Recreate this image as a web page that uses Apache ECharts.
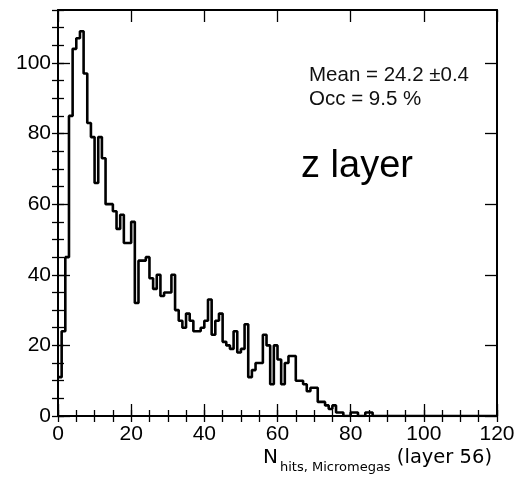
<!DOCTYPE html>
<html><head><meta charset="utf-8">
<script src="https://cdn.jsdelivr.net/npm/echarts@6/dist/echarts.min.js"></script>
<style>html,body{margin:0;padding:0;background:#fff}#c{width:518px;height:477px}</style>
</head><body><div id="c"></div>
<script>
// Histogram: N_hits Micromegas (layer 56), bin width 1, range 0..120
const binWidth = 1;
const counts = [
  11, 24, 45, 85, 104, 107, 109, 97, 83, 79,
  66, 79, 73, 60, 60, 58, 53, 57, 49, 49,
  55, 32, 44, 44, 45, 39, 36, 40, 34, 35,
  35, 40, 30, 27, 25, 29, 27, 24, 24, 25,
  27, 33, 23, 27, 29, 21, 20, 19, 24, 18,
  19, 26, 11, 13, 15, 15, 23, 20, 9, 20,
  16, 9, 15, 17, 17, 10, 10, 9, 7, 8,
  8, 4, 4, 3, 2, 3, 1, 1, 0, 0,
  1, 1, 0, 0, 1, 1, 0, 0, 0, 0,
  0, 0, 0, 0, 0, 0, 0, 0, 0, 0,
  0, 0, 0, 0, 0, 0, 0, 0, 0, 0,
  0, 0, 0, 0, 0, 0, 0, 0, 0, 0
];
const xMajorTicks = [0, 20, 40, 60, 80, 100, 120];
const yMajorTicks = [0, 20, 40, 60, 80, 100];
const xRange = [0, 120];
const yRange = [0, 115];
const minorStep = 5;
const statsLines = ['Mean = 24.2 \u00b10.4', 'Occ = 9.5 %'];
const panelLabel = 'z layer';
const titleMain = 'N';
const titleSub = 'hits, Micromegas';
const titleTail = '(layer 56)';

const points = counts.map((c, i) => [i * binWidth, c]);
points.push([counts.length * binWidth, counts[counts.length - 1]]);

const F = 'Liberation Sans';
const frame = {show: true, onZero: false, lineStyle: {color: '#000', width: 2}};
const gridRect = {left: 58, right: 21, top: 10, bottom: 61, containLabel: false, outerBoundsMode: 'none'};

function majorX(pos, idx, labels) {
  return {type: 'value', gridIndex: idx, position: pos, min: xRange[0], max: xRange[1],
    axisLine: frame, splitLine: {show: false},
    axisTick: {show: true, inside: true, length: 12, customValues: xMajorTicks, lineStyle: {color: '#000', width: 1.3}},
    axisLabel: {show: labels, customValues: xMajorTicks, color: '#000', fontFamily: F, fontSize: 21, margin: 8}};
}
function majorY(pos, idx, labels) {
  return {type: 'value', gridIndex: idx, position: pos, min: yRange[0], max: yRange[1],
    axisLine: frame, splitLine: {show: false},
    axisTick: {show: true, inside: true, length: 12, customValues: yMajorTicks, lineStyle: {color: '#000', width: 1.3}},
    axisLabel: {show: labels, customValues: yMajorTicks, color: '#000', fontFamily: F, fontSize: 21, margin: 7}};
}
function minorAx(pos, idx, range) {
  return {type: 'value', gridIndex: idx, position: pos, min: range[0], max: range[1], interval: minorStep,
    axisLine: {show: false}, splitLine: {show: false},
    axisTick: {show: true, inside: true, length: 6, lineStyle: {color: '#000', width: 1.3}},
    axisLabel: {show: false}};
}

const chart = echarts.init(document.getElementById('c'), null, {renderer: 'canvas'});
chart.setOption({
  animation: false,
  backgroundColor: '#fff',
  grid: [Object.assign({}, gridRect), Object.assign({}, gridRect)],
  xAxis: [majorX('bottom', 0, true), majorX('top', 0, false), minorAx('bottom', 1, xRange), minorAx('top', 1, xRange)],
  yAxis: [majorY('left', 0, true), majorY('right', 0, false), minorAx('left', 1, yRange), minorAx('right', 1, yRange)],
  series: [{
    type: 'line', step: 'end', xAxisIndex: 0, yAxisIndex: 0, data: points,
    symbol: 'none', lineStyle: {color: '#000', width: 2.6}, z: 5
  }],
  graphic: [
    {type: 'text', left: 309, top: 65, style: {text: statsLines[0], font: '20.5px "Liberation Sans"', fill: '#111'}},
    {type: 'text', left: 309, top: 89, style: {text: statsLines[1], font: '20.5px "Liberation Sans"', fill: '#111'}},
    {type: 'text', left: 301, top: 148, style: {text: panelLabel, font: '38px "Liberation Sans"', fill: '#000'}},
    {type: 'text', left: 263, top: 448, style: {text: titleMain, font: '20px "DejaVu Sans"', fill: '#000'}},
    {type: 'text', left: 280, top: 461, style: {text: titleSub, font: '13px "DejaVu Sans"', fill: '#000'}},
    {type: 'text', right: 26, top: 448, style: {text: titleTail, font: '19.5px "DejaVu Sans"', fill: '#000'}}
  ]
});
</script>
</body></html>
